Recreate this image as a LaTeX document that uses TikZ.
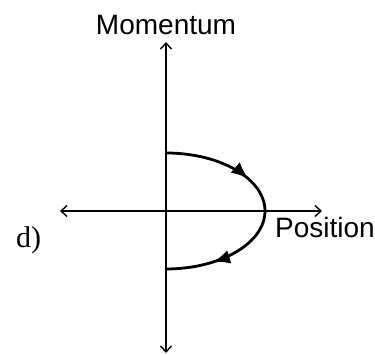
\documentclass[tikz,border=0pt]{standalone}
\usepackage{fontspec}
\setmainfont{Liberation Sans}
\newfontfamily\serifd{Liberation Serif}
\usetikzlibrary{arrows.meta,decorations.markings}

\tikzset{
  axis/.style={line width=1.4pt, {Straight Barb[length=6pt,width=11pt]}-{Straight Barb[length=6pt,width=11pt]}},
  orbit/.style={line width=2.8pt, postaction={decorate}, decoration={markings,
      mark=at position 0.35 with {\arrow{Latex[length=17pt,width=14pt]}},
      mark=at position 0.81 with {\arrow{Latex[length=17pt,width=14pt]}}}},
  lbl/.style={inner sep=0pt, font=\fontsize{28}{30}\selectfont}
}

\begin{document}
\begin{tikzpicture}[x=1pt, y=1pt]
\useasboundingbox (0,0) rectangle (375,355);

% ── Ejes ──────────────────────────────────────────────────────
\coordinate (left)   at (60, 144);
\coordinate (right)  at (322, 144);
\coordinate (top)    at (166, 313);
\coordinate (bottom) at (166, 2);
\draw[axis] (left) -- (right);
\draw[axis] (bottom) -- (top);

% ── Trayectoria en el espacio de fases ────────────────────────
\coordinate (start) at (166, 202);
\draw[orbit] (start) arc[start angle=90, end angle=-90, x radius=99, y radius=58];

% ── Rótulos ───────────────────────────────────────────────────
\node[lbl, anchor=base] (momentum) at (166, 320) {Momentum};
\node[lbl, anchor=base west] (position) at (275, 117) {Position};
\node[inner sep=0pt, anchor=base west, font=\serifd\fontsize{30}{32}\selectfont]
    (tag) at (16, 107) {d)};

\end{tikzpicture}
\end{document}
